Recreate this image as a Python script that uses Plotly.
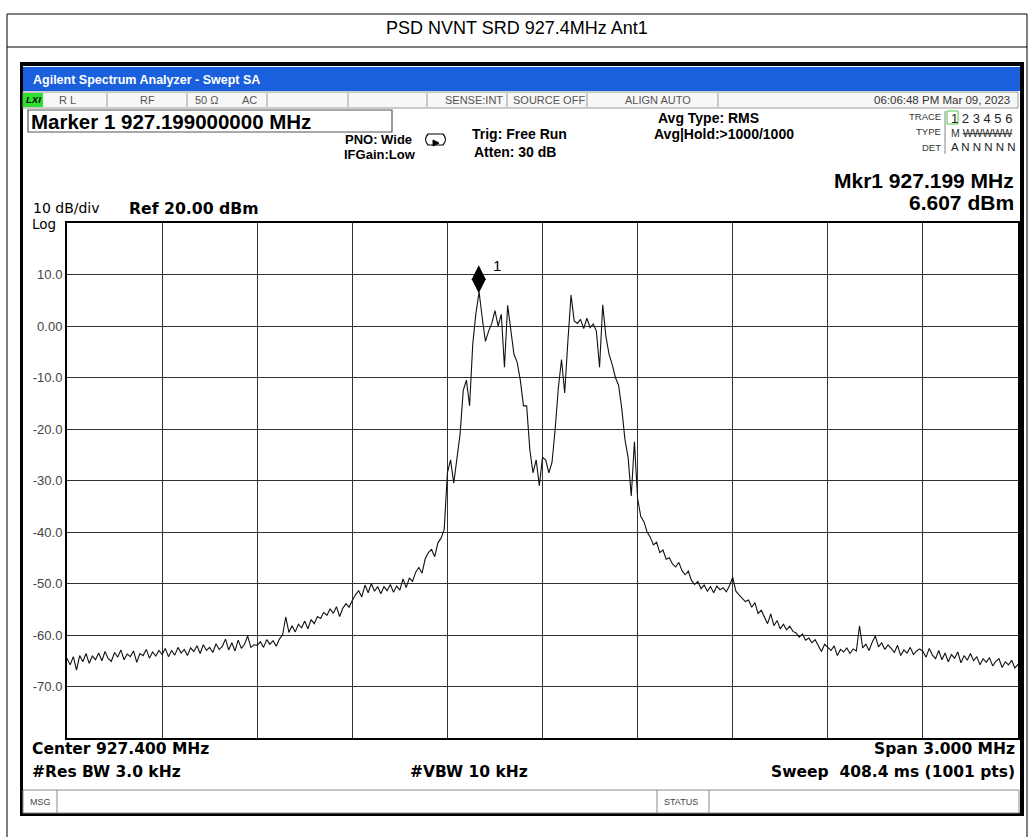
import plotly.graph_objects as go

# ---------------- data ----------------
center_mhz = 927.4
span_mhz = 3.0
ref_level_dbm = 20.0
db_per_div = 10.0
marker_mhz = 927.199
marker_dbm = 6.607

trace_db = [
    -64.5, -65.8, -64.2, -66.8, -64.0, -65.2, -63.6, -65.5, -64.1, -64.8,
    -63.5, -65.0, -63.2, -64.6, -65.1, -63.4, -64.3, -62.9, -64.8, -63.7,
    -64.2, -63.1, -65.3, -63.6, -64.0, -62.8, -64.5, -63.3, -64.1, -63.0,
    -63.8, -62.6, -64.2, -63.0, -63.9, -62.4, -63.5, -62.8, -64.0, -62.5,
    -63.2, -62.1, -63.6, -61.9, -63.0, -62.4, -63.4, -61.7, -62.8, -62.2,
    -60.8, -62.9, -61.5, -63.1, -61.0, -62.6, -61.8, -60.2, -62.4, -61.9,
    -62.0, -61.3, -62.4, -60.9, -61.8, -61.1, -62.2, -60.8, -60.0, -56.5,
    -59.5, -58.2, -59.4, -57.9, -58.6, -57.3, -58.8, -57.0, -57.8, -56.4,
    -56.8, -55.6, -56.2, -54.9, -55.8, -54.5, -56.4, -54.8, -53.9, -54.6,
    -53.3, -52.2, -51.4, -52.6, -50.3, -51.8, -50.0, -51.5, -50.6, -52.0,
    -50.6, -51.4, -50.2, -51.7, -50.5, -51.3, -49.1, -50.8, -48.9, -49.6,
    -47.8, -46.9, -48.0, -45.2, -44.0, -43.4, -44.8, -42.1, -41.2, -39.5,
    -28.5, -26.0, -30.5, -25.5, -21.0, -12.5, -10.5, -15.5, -3.5, 2.5,
    6.607, 1.5, -3.0, -1.0, 0.5, 3.0, 0.0, 2.3, -8.0, 4.0,
    -1.0, -5.5, -7.0, -10.5, -15.5, -15.5, -24.0, -28.5, -26.0, -31.0,
    -25.5, -26.0, -28.5, -26.5, -20.0, -12.0, -6.5, -13.0, -3.0, 6.0,
    1.0, 0.5, 1.3, -0.5, 1.5, -0.3, 0.4, -1.0, -8.0, 4.1,
    -2.0, -5.5, -7.5, -10.0, -11.5, -16.0, -22.0, -25.5, -33.0, -22.5,
    -33.5, -37.0, -38.0, -40.0, -41.0, -42.5, -42.0, -44.0, -43.5, -45.3,
    -45.0, -46.2, -46.8, -45.9, -47.5, -48.3, -47.6, -49.4, -50.2, -49.6,
    -51.0, -50.3, -51.5, -50.6, -51.8, -50.5, -51.2, -50.8, -51.6, -50.4,
    -48.8, -51.5, -52.2, -52.8, -53.5, -53.2, -54.6, -53.7, -55.8, -55.2,
    -56.5, -57.8, -55.9, -58.2, -57.2, -58.8, -57.9, -59.0, -58.3, -59.3,
    -59.6, -60.4, -59.8, -61.0, -60.6, -61.5, -60.9, -62.0, -63.2, -61.8,
    -62.4, -63.0, -62.1, -64.0, -62.8, -63.3, -62.5, -63.6, -62.7, -63.1,
    -58.2, -62.5, -61.8, -63.0, -61.4, -60.2, -62.3, -61.5, -62.8, -61.9,
    -62.6, -63.4, -62.0, -64.0, -62.9, -63.5, -62.4, -63.8, -63.1, -62.7,
    -63.2, -64.3, -62.6, -63.9, -64.6, -63.0, -64.8, -63.5, -65.2, -63.8,
    -64.5, -63.3, -65.4, -64.0, -64.9, -63.6, -65.0, -64.2, -65.8, -64.6,
    -65.3, -64.4, -66.0, -65.1, -64.6, -66.3, -65.2, -65.8, -64.9, -66.4, -65.7,
]

y_tick_values = [10, 0, -10, -20, -30, -40, -50, -60, -70]
y_tick_text = ["10.0", "0.00", "-10.0", "-20.0", "-30.0", "-40.0", "-50.0", "-60.0", "-70.0"]

# sweep points are evenly spaced across the span
n_pts = len(trace_db)
f_start = center_mhz - span_mhz / 2
f_stop = center_mhz + span_mhz / 2
freqs = [f_start + span_mhz * i / (n_pts - 1) for i in range(n_pts)]

# ---------------- layout geometry (pixels) ----------------
W, H = 1032, 837
PL, PR, PT, PB = 67, 1018, 223, 738


def px(x):
    return x / W


def py(y):
    return 1 - y / H


shapes = []


def rect(x0, y0, x1, y1, fill=None, line=None, lw=1.0):
    shapes.append(dict(
        type="rect", xref="paper", yref="paper",
        x0=px(x0), x1=px(x1), y0=py(y1), y1=py(y0),
        fillcolor=fill if fill else "rgba(0,0,0,0)",
        line=dict(color=line if line else "rgba(0,0,0,0)", width=lw if line else 0),
        layer="below"))


def hline(x0, x1, y, color="black", lw=1.0):
    shapes.append(dict(type="line", xref="paper", yref="paper",
                       x0=px(x0), x1=px(x1), y0=py(y), y1=py(y),
                       line=dict(color=color, width=lw), layer="below"))


def vline(x, y0, y1, color="black", lw=1.0):
    shapes.append(dict(type="line", xref="paper", yref="paper",
                       x0=px(x), x1=px(x), y0=py(y0), y1=py(y1),
                       line=dict(color=color, width=lw), layer="below"))


annotations = []


def txt(s, x, y, size, anchor="left", color="black", family="Liberation Sans", bold=False):
    if bold:
        s = "<b>" + s + "</b>"
    annotations.append(dict(
        text=s, x=px(x), y=py(y), xref="paper", yref="paper",
        xanchor=anchor, yanchor="middle", showarrow=False,
        font=dict(size=size, color=color, family=family)))


# outer report frame
vline(7, 14, 837)
vline(1027, 14, 837)
hline(7, 1027, 14)
hline(7, 1027, 47)
txt("PSD NVNT SRD 927.4MHz Ant1", 517, 28, 18, anchor="center")

# analyzer screen
rect(20, 62, 1024, 816, fill="black")
rect(23, 66, 1020, 813, fill="white")
rect(23, 67, 1020, 91, fill="#1a5fdc")
txt("Agilent Spectrum Analyzer - Swept SA", 31, 80, 12.5, color="white", bold=True)

# status row
rect(23, 92, 1018, 108, fill="#f7f7f7", line="#9a9a9a", lw=1)
rect(23, 93, 43, 107, fill="#2ee02e")
txt("<i>LXI</i>", 33, 100, 9.5, anchor="center", bold=True)
for sx in [107, 187, 267, 348, 427, 507, 587, 718]:
    vline(sx, 93, 107, color="#9a9a9a")
gray = "#555555"
txt("R L", 57, 100, 11, color=gray)
txt("RF", 147, 100, 11, anchor="center", color=gray)
txt("50 Ω", 193, 100, 11, color=gray)
txt("AC", 240, 100, 11, color=gray)
txt("SENSE:INT", 505, 100, 11, anchor="right", color=gray)
txt("SOURCE OFF", 511, 100, 11, color=gray)
txt("ALIGN AUTO", 623, 100, 11, color=gray)
txt("06:06:48 PM Mar 09, 2023", 1012, 100, 11.5, anchor="right", color="#333333")

# marker header
rect(28, 110, 392, 132, line="#555555", lw=1.2)
txt("Marker 1 927.199000000 MHz", 29, 121, 20.5, bold=True)
txt("PNO: Wide", 343, 139, 13, bold=True)
txt("IFGain:Low", 342, 154, 13, bold=True)
shapes.append(dict(type="path", xref="paper", yref="paper",
                   path="M {a},{b} L {c},{b} Q {d},{e} {c},{f} L {a},{f} Q {g},{e} {a},{b} Z".format(
                       a=px(428), b=py(134), c=px(443), d=px(448), e=py(139.5), f=py(145), g=px(423)),
                   line=dict(color="black", width=1.2), layer="below"))
shapes.append(dict(type="path", xref="paper", yref="paper",
                   path="M {a},{b} L {c},{d} L {a},{e} Z".format(
                       a=px(433), b=py(140), c=px(439), d=py(143), e=py(146)),
                   fillcolor="black", line=dict(color="black", width=1), layer="below"))
txt("Trig: Free Run", 470, 134, 14, bold=True)
txt("Atten: 30 dB", 472, 152, 14, bold=True)
txt("Avg Type: RMS", 656, 118, 14, bold=True)
txt("Avg|Hold:>1000/1000", 652, 134, 14, bold=True)

# trace / type / det block
vline(945, 111, 154, color="#888888")
rect(947, 111, 958, 124, line="#44cc44", lw=1)
txt("TRACE", 943, 117, 9.5, anchor="right", color="#333333")
txt("TYPE", 943, 132, 9.5, anchor="right", color="#333333")
txt("DET", 943, 147, 9.5, anchor="right", color="#333333")
txt("1 2 3 4 5 6", 949, 118, 13, color="#222222")
txt("M <s>WWWWW</s>", 949, 133, 10.5, color="#333333")
txt("A N N N N N", 949, 147, 11.5, color="#222222")

txt("Mkr1 927.199 MHz", 1016, 180, 21, anchor="right", bold=True)
txt("6.607 dBm", 1016, 202, 21, anchor="right", bold=True)

txt("10 dB/div", 31, 208, 14, family="DejaVu Sans")
txt("Ref 20.00 dBm", 127, 208, 15.7, family="DejaVu Sans", bold=True)
txt("Log", 30, 224, 13.5, family="DejaVu Sans")

# footer
txt("Center 927.400 MHz", 30, 749, 15.5, family="DejaVu Sans", bold=True)
txt("Span 3.000 MHz", 1017, 749, 15.5, anchor="right", family="DejaVu Sans", bold=True)
txt("#Res BW 3.0 kHz", 30, 772, 15.5, family="DejaVu Sans", bold=True)
txt("#VBW 10 kHz", 408, 772, 15.5, family="DejaVu Sans", bold=True)
txt("Sweep  408.4 ms (1001 pts)", 1017, 772, 15.5, anchor="right", family="DejaVu Sans", bold=True)

rect(23, 790, 1019, 813, fill="white", line="#8a8a8a", lw=1)
vline(57, 790, 813, color="#8a8a8a")
vline(657, 790, 813, color="#8a8a8a")
vline(709, 790, 813, color="#8a8a8a")
txt("MSG", 28, 802, 9, color="#444444")
txt("STATUS", 662, 802, 9, color="#444444")

# ---------------- figure ----------------
fig = go.Figure()
fig.add_trace(go.Scatter(x=freqs, y=trace_db, mode="lines",
                         line=dict(color="#111111", width=1.1),
                         hoverinfo="skip", showlegend=False))

db_per_px = db_per_div * 10 / (PB - PT)
fig.add_trace(go.Scatter(x=[marker_mhz], y=[marker_dbm + 12.6 * db_per_px], mode="markers",
                         marker=dict(symbol="diamond-tall", size=20, color="black"),
                         hoverinfo="skip", showlegend=False))
txt("1", 491, 265, 15)

fig.update_layout(
    width=W, height=H,
    margin=dict(l=0, r=0, t=0, b=0),
    paper_bgcolor="white", plot_bgcolor="white",
    shapes=shapes, annotations=annotations,
    showlegend=False,
    xaxis=dict(domain=[px(PL), px(PR)], range=[f_start, f_stop],
               tick0=f_start, dtick=span_mhz / 10,
               showgrid=True, gridcolor="#333333", gridwidth=1,
               showticklabels=False, ticks="", zeroline=False,
               showline=True, linecolor="black", linewidth=2, mirror=True),
    yaxis=dict(domain=[py(PB), py(PT)], range=[ref_level_dbm - 10 * db_per_div, ref_level_dbm],
               tickvals=y_tick_values, ticktext=y_tick_text,
               tickfont=dict(family="Liberation Sans", size=13, color="#444444"),
               showgrid=True, gridcolor="#333333", gridwidth=1,
               ticks="", zeroline=False,
               showline=True, linecolor="black", linewidth=2, mirror=True),
)

fig.write_html("out.html", config={"displayModeBar": False},
               post_script="document.body.style.margin='0';document.body.style.overflow='hidden';")
